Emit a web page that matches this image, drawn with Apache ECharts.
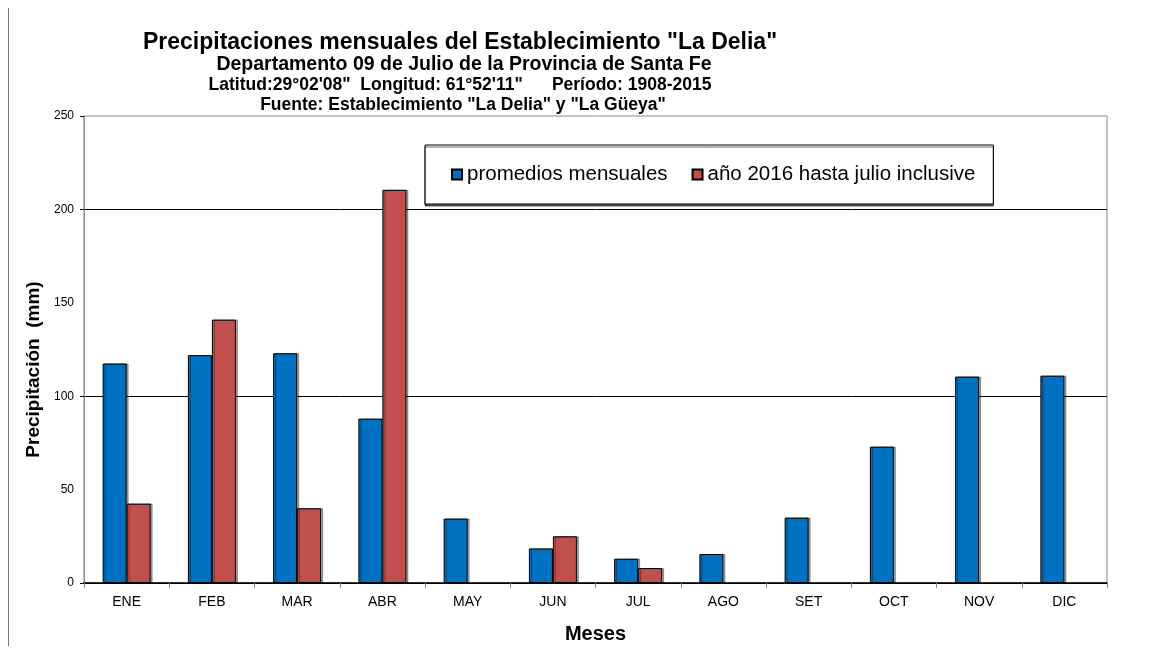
<!DOCTYPE html>
<html>
<head>
<meta charset="utf-8">
<title>Precipitaciones mensuales La Delia</title>
<script src="https://cdn.jsdelivr.net/npm/echarts@6/dist/echarts.min.js"></script>
<style>
  html, body { margin: 0; padding: 0; background: #fff; }
  #chart { width: 1155px; height: 654px; }
</style>
</head>
<body>
<div id="chart"></div>
<script>
// datos
const meses = ['ENE', 'FEB', 'MAR', 'ABR', 'MAY', 'JUN', 'JUL', 'AGO', 'SET', 'OCT', 'NOV', 'DIC'];
const promedios = [117.5, 122, 123, 88, 34.5, 18.5, 13, 15.5, 35, 73, 110.5, 111];
const anio2016 = [42.5, 141, 40, 210.5, null, 25, 8, null, null, null, null, null];
const yTicks = [0, 50, 100, 150, 200, 250];

const titulos = [
  'Precipitaciones mensuales del Establecimiento "La Delia"',
  'Departamento 09 de Julio de la Provincia de Santa Fe',
  'Latitud:29°02\'08"  Longitud: 61°52\'11"      Período: 1908-2015',
  'Fuente: Establecimiento "La Delia" y "La Güeya"'
];

const chart = echarts.init(document.getElementById('chart'));
const fuente = '"Liberation Sans", Arial, sans-serif';

const option = {
  backgroundColor: '#fff',
  animation: false,
  textStyle: { fontFamily: fuente, color: '#000' },
  title: [
    { text: titulos[0], left: 455, top: 26, textAlign: 'center',
      textStyle: { fontSize: 23, fontWeight: 'bold', color: '#000', fontFamily: fuente } },
    { text: titulos[1], left: 459, top: 50, textAlign: 'center',
      textStyle: { fontSize: 19.5, fontWeight: 'bold', color: '#000', fontFamily: fuente } },
    { text: titulos[2], left: 455, top: 71, textAlign: 'center',
      textStyle: { fontSize: 17.5, fontWeight: 'bold', color: '#000', fontFamily: fuente } },
    { text: titulos[3], left: 458, top: 91, textAlign: 'center',
      textStyle: { fontSize: 17.5, fontWeight: 'bold', color: '#000', fontFamily: fuente } }
  ],
  graphic: [
    { type: 'line', shape: { x1: 8.5, y1: 8, x2: 8.5, y2: 646 },
      style: { stroke: '#777', lineWidth: 1 } }
  ],
  legend: {
    left: 425,
    top: 145,
    icon: 'rect',
    itemWidth: 10,
    itemHeight: 10,
    itemGap: 24,
    padding: [19, 18, 19, 26],
    borderColor: '#000',
    borderWidth: 1,
    backgroundColor: '#fff',
    shadowColor: 'rgba(0,0,0,0.6)',
    shadowOffsetY: 2,
    textStyle: { fontSize: 20.5, color: '#000', fontFamily: fuente },
    data: ['promedios mensuales', 'año 2016 hasta julio inclusive']
  },
  grid: {
    left: 84, right: 48, top: 116, bottom: 71,
    show: true, borderColor: '#8a8a8a', borderWidth: 1
  },
  xAxis: {
    type: 'category',
    data: meses,
    name: 'Meses',
    nameLocation: 'middle',
    nameGap: 41,
    nameTextStyle: { fontSize: 20, fontWeight: 'bold', color: '#000' },
    axisLine: { lineStyle: { color: '#000', width: 1.5 } },
    axisTick: { show: true, length: 5, lineStyle: { color: '#888' } },
    axisLabel: { fontSize: 14, color: '#000', margin: 12 }
  },
  yAxis: [
    {
      type: 'value',
      min: yTicks[0],
      max: yTicks[yTicks.length - 1],
      interval: 50,
      name: 'Precipitación  (mm)',
      nameLocation: 'middle',
      nameGap: 31,
      nameTextStyle: { fontSize: 19, fontWeight: 'bold', color: '#000', padding: [0, 40, 0, 0] },
      axisLine: { show: true, lineStyle: { color: '#8a8a8a' } },
      axisTick: { show: false },
      axisLabel: { fontSize: 12, color: '#000', margin: 10 },
      splitLine: { show: false }
    },
    {
      type: 'value',
      position: 'left',
      min: yTicks[0],
      max: yTicks[yTicks.length - 1],
      interval: 100,
      axisLine: { show: false },
      axisTick: { show: true, inside: false, length: 4, lineStyle: { color: '#000' } },
      axisLabel: { show: false },
      splitLine: { show: true, showMaxLine: false, lineStyle: { color: '#000', width: 1 } }
    }
  ],
  series: [
    {
      name: 'promedios mensuales',
      type: 'bar',
      data: promedios,
      barWidth: 24,
      barGap: '0%',
      itemStyle: {
        color: '#0070C0', borderColor: '#000', borderWidth: 1,
        shadowColor: 'rgba(0,0,0,0.35)', shadowOffsetX: 2
      }
    },
    {
      name: 'año 2016 hasta julio inclusive',
      type: 'bar',
      data: anio2016,
      barWidth: 24,
      barGap: '0%',
      itemStyle: {
        color: '#C0504D', borderColor: '#000', borderWidth: 1,
        shadowColor: 'rgba(0,0,0,0.35)', shadowOffsetX: 2
      }
    }
  ]
};

chart.setOption(option);
</script>
</body>
</html>
